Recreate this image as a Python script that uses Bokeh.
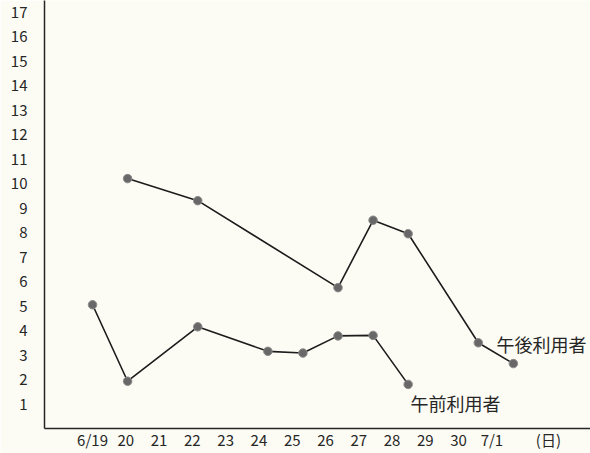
from bokeh.plotting import figure
from bokeh.models import FixedTicker, Label, ColumnDataSource
from bokeh.embed import file_html
from bokeh.resources import INLINE

# --- data ---
day_labels = ["6/19", "20", "21", "22", "23", "24", "25", "26", "27", "28", "29", "30", "7/1"]
unit_label = "(日)"

pm_days = [1, 3, 7, 8, 9, 11, 12]
pm_values = [10.2, 9.3, 5.75, 8.5, 7.95, 3.5, 2.65]

am_days = [0, 1, 3, 5, 6, 7, 8, 9]
am_values = [5.05, 1.93, 4.15, 3.15, 3.08, 3.78, 3.8, 1.8]

pm_name = "午後利用者"
am_name = "午前利用者"

y_ticks = list(range(1, 18))

# layout constants (the hand-drawn axis labels sit slightly tighter than the points)
LABEL_STEP = 0.949
FONT = "Noto Sans CJK JP"
BG = "#fcfcf4"
INK = "#262626"

p = figure(width=590, height=453, output_backend="svg", toolbar_location=None,
           x_range=(-1.37, 14.2), y_range=(0, 17.47),
           min_border_left=44, min_border_right=0, min_border_top=0, min_border_bottom=25,
           background_fill_color=BG, border_fill_color=BG)
p.outline_line_color = None
p.grid.visible = False

for xs, ys in ((pm_days, pm_values), (am_days, am_values)):
    src = ColumnDataSource(dict(x=xs, y=ys))
    p.line("x", "y", source=src, line_color="#1c1c1c", line_width=1.6)
    p.scatter("x", "y", source=src, size=8.5, fill_color="#686868",
              line_color="#8c8c8c", line_width=1)

# axes
tick_pos = [round(i * LABEL_STEP, 4) for i in range(len(day_labels))]
unit_pos = float(len(day_labels))
p.xaxis.ticker = FixedTicker(ticks=tick_pos + [unit_pos])
overrides = {t: lab for t, lab in zip(tick_pos, day_labels)}
overrides[unit_pos] = unit_label
p.xaxis.major_label_overrides = overrides
p.yaxis.ticker = FixedTicker(ticks=y_ticks)

for ax in (p.xaxis[0], p.yaxis[0]):
    ax.axis_line_color = INK
    ax.axis_line_width = 1.5
    ax.major_tick_line_color = None
    ax.minor_tick_line_color = None
    ax.major_tick_out = 0
    ax.major_tick_in = 0
    ax.minor_tick_out = 0
    ax.minor_tick_in = 0
    ax.major_label_text_font = FONT
    ax.major_label_text_font_size = "15px"
    ax.major_label_text_color = INK
p.xaxis.major_label_standoff = 0
p.yaxis.major_label_standoff = 17

# series labels
for txt, x, y in ((pm_name, pm_days[-2] + 0.52, pm_values[-2] - 0.04),
                  (am_name, am_days[-1] + 0.07, am_values[-1] - 0.74)):
    p.add_layout(Label(x=x, y=y, text=txt, text_font=FONT, text_font_size="18px",
                       text_color=INK, text_baseline="middle", text_align="left"))

open("out.html", "w").write(file_html(p, INLINE))
